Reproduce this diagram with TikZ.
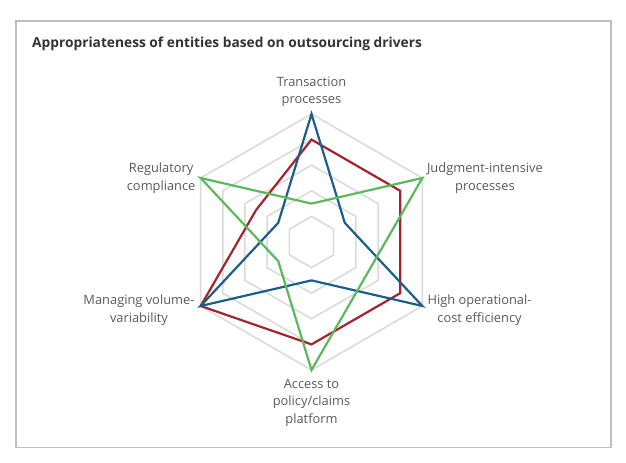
\documentclass[tikz,border=0pt]{standalone}
\usepackage{fontspec}
\setmainfont{Open Sans}
\usepackage{tikz}
\usetikzlibrary{%
  calc,%
  positioning%
}
\definecolor{serblue}{HTML}{1B5E86}
\definecolor{serred}{HTML}{A3232F}
\definecolor{sergreen}{HTML}{5CB85C}
\definecolor{gridgray}{HTML}{D9D9D9}
\definecolor{framegray}{HTML}{BFBFBF}
\definecolor{txtgray}{HTML}{595959}
\tikzset{>=latex}
\tikzset{
  lbl/.style={inner sep=0pt,align=center,text=txtgray,
    font=\fontsize{12.9}{17.5}\selectfont},
  gridline/.style={gridgray,line width=1.5pt},
  series/.style={line width=2.2pt}
}

\begin{document}
\begin{tikzpicture}[x=1bp,y=1bp]
    \useasboundingbox (0,0) rectangle (626,463);
    \draw[framegray,line width=2pt] (16,442) rectangle (610.5,15.5);
    \node[anchor=base west,inner sep=0pt,text=black!80,
      font=\fontsize{13.8}{16}\selectfont\bfseries] (title) at (32,415)
      {Appropriateness of entities based on outsourcing drivers};
    \begin{scope}[shift={(311.5,221)}]
    \def\R{128}
    \foreach \k in {1,...,5}
        \draw[gridline] (90:\k*\R/5) -- (30:\k*\R/5) -- (-30:\k*\R/5)
        -- (-90:\k*\R/5) -- (-150:\k*\R/5) -- (150:\k*\R/5) -- cycle;
    \foreach \a [count=\i] in {90,30,-30,-90,-150,150}
        \coordinate (v\i) at (\a:\R);
    % series
    \draw[series,serred] (90:0.8*\R) -- (30:0.8*\R) -- (-30:0.8*\R)
        -- (-90:0.8*\R) -- (-150:\R) -- (150:0.5*\R) -- cycle;
    \draw[series,serblue] (90:\R) -- (30:0.3*\R) -- (-30:\R)
        -- (-90:0.3*\R) -- (-150:\R) -- (150:0.3*\R) -- cycle;
    \draw[series,sergreen] (90:0.3*\R) -- (30:\R) -- (-30:0.5*\R)
        -- (-90:\R) -- (-150:0.3*\R) -- (150:\R) -- cycle;
    \end{scope}
    \node[lbl,above=7bp of v1] (trans) {Transaction\\processes};
    \node[lbl,right=4.5bp of v2] (judg) {Judgment-intensive\\processes};
    \node[lbl,right=5bp of v3,yshift=-4bp] (cost) {High operational-\\cost efficiency};
    \node[lbl,below=9bp of v4] (access) {Access to\\policy/claims\\platform};
    \node[lbl,left=6bp of v5,yshift=-4bp] (volume) {Managing volume-\\variability};
    \node[lbl,left=5bp of v6] (reg) {Regulatory\\compliance};
\end{tikzpicture}
\end{document}
